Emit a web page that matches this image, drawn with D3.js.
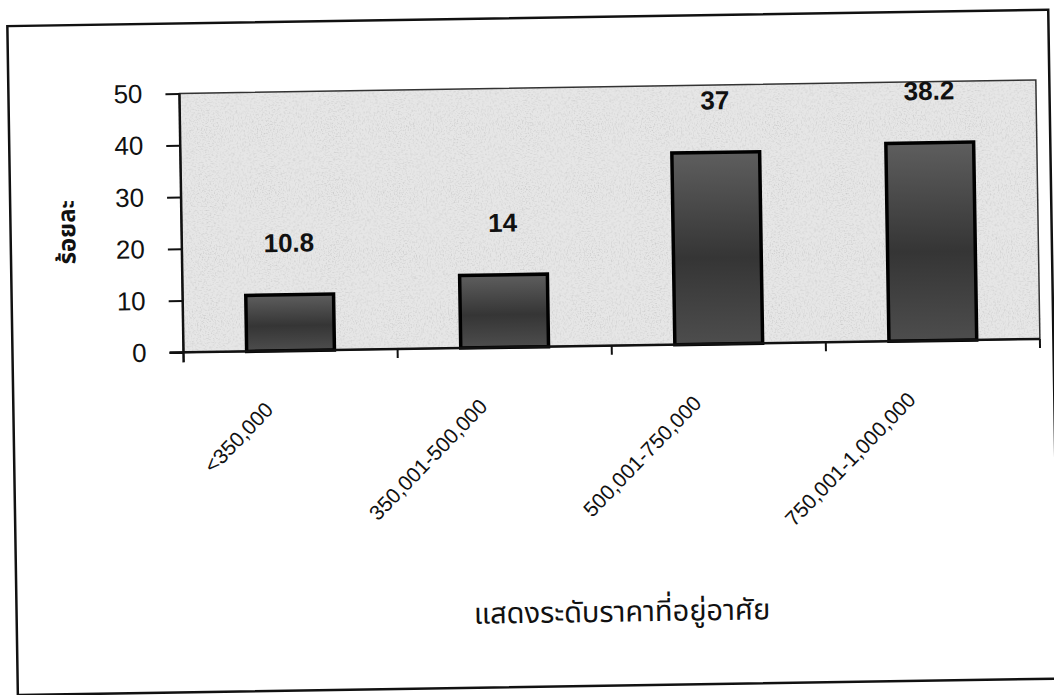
<!DOCTYPE html>
<html>
<head>
<meta charset="utf-8">
<script src="https://cdn.jsdelivr.net/npm/d3@7"></script>
<style>
  body { margin: 0; background: #fff; }
  svg { display: block; }
</style>
</head>
<body>
<div id="chart"></div>
<script>
// chart values
const categories = ["<350,000", "350,001-500,000", "500,001-750,000", "750,001-1,000,000"];
const percents = [10.8, 14, 37, 38.2];
const yTickValues = [0, 10, 20, 30, 40, 50];
const yTitle = "ร้อยละ";
const xTitle = "แสดงระดับราคาที่อยู่อาศัย";

const data = categories.map((c, i) => ({ category: c, value: percents[i] }));

const drawBarChart = (data) => {
    const width = 1054;
    const height = 695;
    const margin = { top: 88, right: 14, bottom: 348, left: 183.5 };
    const innerWidth = width - margin.left - margin.right;
    const innerHeight = height - margin.top - margin.bottom;

    const thaiFont = "'Noto Sans Thai', 'Noto Sans', 'DejaVu Sans', sans-serif";
    const numFont = "Arial, 'Liberation Sans', sans-serif";

    const svg = d3.select("#chart")
        .append("svg")
        .attr("width", width)
        .attr("height", height);

    const defs = svg.append("defs");
    const grad = defs.append("linearGradient")
        .attr("id", "barFill")
        .attr("x1", 0).attr("y1", 0).attr("x2", 0).attr("y2", 1);
    grad.append("stop").attr("offset", "0%").attr("stop-color", "#5e5e5e");
    grad.append("stop").attr("offset", "55%").attr("stop-color", "#353535");
    grad.append("stop").attr("offset", "100%").attr("stop-color", "#4d4d4d");

    // scanner speckle
    const speckle = defs.append("filter").attr("id", "speckle")
        .attr("x", 0).attr("y", 0).attr("width", 1).attr("height", 1);
    speckle.append("feTurbulence")
        .attr("type", "fractalNoise")
        .attr("baseFrequency", 0.75)
        .attr("numOctaves", 2)
        .attr("seed", 3);
    speckle.append("feColorMatrix")
        .attr("type", "matrix")
        .attr("values", "0 0 0 0 0.35  0 0 0 0 0.35  0 0 0 0 0.35  1.6 0 0 0 -0.75");

    // the scan is tilted slightly
    const page = svg.append("g")
        .attr("transform", `rotate(-0.9, ${width / 2}, 350)`);

    // outer frame
    page.append("rect")
        .attr("x", 12.5)
        .attr("y", 18)
        .attr("width", 1041)
        .attr("height", 669)
        .attr("fill", "none")
        .attr("stroke", "#111")
        .attr("stroke-width", 2.5);

    const xScale = d3.scaleBand()
        .domain(data.map(d => d.category))
        .range([0, innerWidth])
        .paddingInner(0.59)
        .paddingOuter(0.295);

    const yScale = d3.scaleLinear()
        .domain([0, 50])
        .range([innerHeight, 0]);

    const innerChart = page.append("g")
        .attr("transform", `translate(${margin.left},${margin.top})`);

    // plot area
    innerChart.append("rect")
        .attr("x", 0)
        .attr("y", 0)
        .attr("width", innerWidth)
        .attr("height", innerHeight)
        .attr("fill", "#e6e6e6");
    innerChart.append("rect")
        .attr("x", 0)
        .attr("y", 0)
        .attr("width", innerWidth)
        .attr("height", innerHeight)
        .attr("filter", "url(#speckle)")
        .attr("opacity", 0.6);
    innerChart.append("rect")
        .attr("x", 0)
        .attr("y", 0)
        .attr("width", innerWidth)
        .attr("height", innerHeight)
        .attr("fill", "none")
        .attr("stroke", "#333")
        .attr("stroke-width", 1.5);

    // bars
    innerChart.selectAll(".bar")
        .data(data)
        .join("rect")
            .attr("class", "bar")
            .attr("x", d => xScale(d.category))
            .attr("y", d => yScale(d.value))
            .attr("width", xScale.bandwidth())
            .attr("height", d => innerHeight - yScale(d.value))
            .attr("fill", "url(#barFill)")
            .attr("stroke", "#000")
            .attr("stroke-width", 3.5);

    // value labels sit well above the bars
    innerChart.selectAll(".value-label")
        .data(data)
        .join("text")
            .attr("class", "value-label")
            .attr("x", d => xScale(d.category) + xScale.bandwidth() / 2)
            .attr("y", d => yScale(d.value) - 43)
            .attr("text-anchor", "middle")
            .attr("font-family", numFont)
            .attr("font-weight", "bold")
            .attr("font-size", "26px")
            .attr("fill", "#111")
            .text(d => d.value);

    // y axis
    const leftAxis = d3.axisLeft(yScale)
        .tickValues(yTickValues)
        .tickSize(14)
        .tickPadding(23);

    const yAxis = innerChart.append("g").call(leftAxis);
    yAxis.select(".domain").remove();
    yAxis.selectAll(".tick line").attr("stroke", "#111").attr("stroke-width", 2);
    yAxis.selectAll(".tick text")
        .attr("font-family", numFont)
        .attr("font-size", "26px")
        .attr("fill", "#111");

    innerChart.append("line")
        .attr("x1", 0).attr("x2", 0)
        .attr("y1", 0).attr("y2", innerHeight + 10)
        .attr("stroke", "#111")
        .attr("stroke-width", 2.5);

    // x axis with ticks between categories
    const step = xScale.step();
    const edges = data.map(d => xScale(d.category) - step * xScale.paddingInner() / 2);
    edges.push(innerWidth);

    const xAxis = innerChart.append("g")
        .attr("transform", `translate(0,${innerHeight})`);

    xAxis.append("line")
        .attr("x1", -14).attr("x2", innerWidth)
        .attr("y1", 0).attr("y2", 0)
        .attr("stroke", "#111")
        .attr("stroke-width", 2.5);

    xAxis.selectAll(".x-tick")
        .data(edges.slice(1))
        .join("line")
            .attr("class", "x-tick")
            .attr("x1", d => d).attr("x2", d => d)
            .attr("y1", 0).attr("y2", 9)
            .attr("stroke", "#111")
            .attr("stroke-width", 2);

    xAxis.selectAll(".x-label")
        .data(data)
        .join("text")
            .attr("class", "x-label")
            .attr("transform", d => `translate(${xScale(d.category) + xScale.bandwidth() / 2 - 17},60) rotate(-45)`)
            .attr("text-anchor", "end")
            .attr("font-family", numFont)
            .attr("font-size", "21px")
            .attr("fill", "#111")
            .text(d => d.category);

    // axis titles
    page.append("text")
        .attr("transform", "translate(77,225) rotate(-90)")
        .attr("text-anchor", "middle")
        .attr("font-family", thaiFont)
        .attr("font-weight", "bold")
        .attr("font-size", "24px")
        .attr("fill", "#111")
        .text(yTitle);

    page.append("text")
        .attr("x", 618)
        .attr("y", 623)
        .attr("text-anchor", "middle")
        .attr("font-family", thaiFont)
        .attr("font-size", "29px")
        .attr("fill", "#111")
        .text(xTitle);
};

drawBarChart(data);
</script>
</body>
</html>
